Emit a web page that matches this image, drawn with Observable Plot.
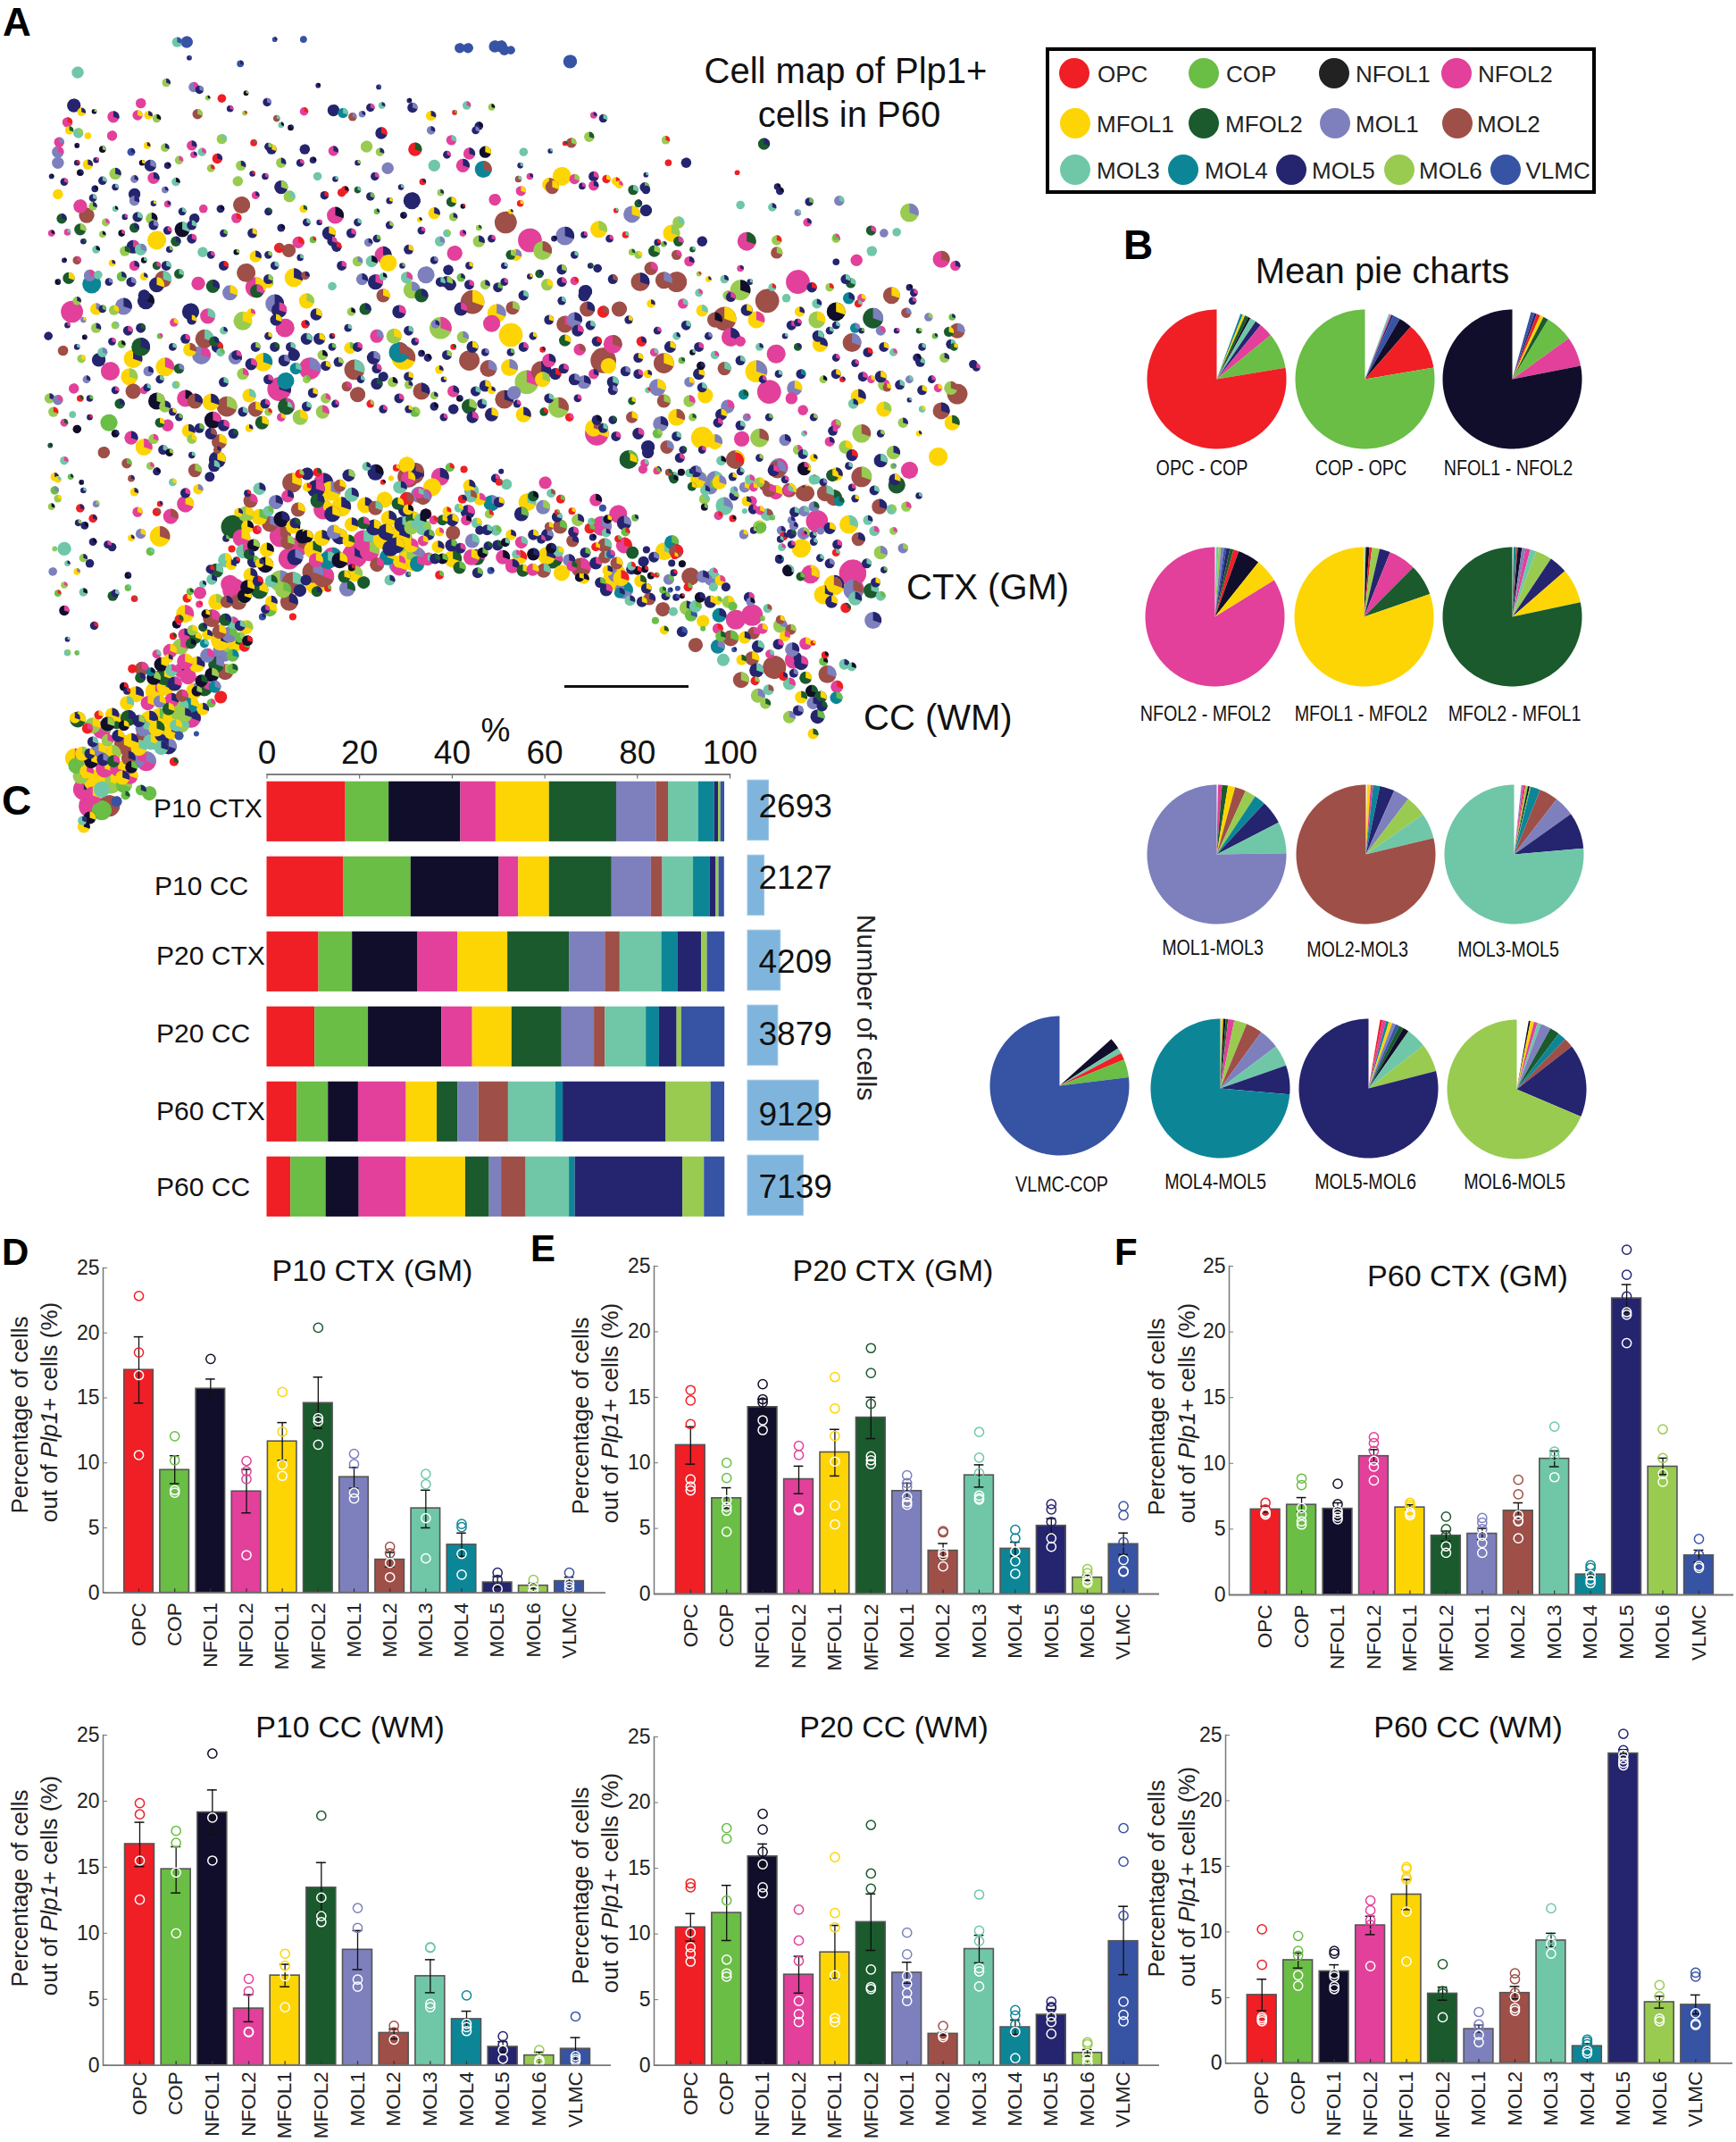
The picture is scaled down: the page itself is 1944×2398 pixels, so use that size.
<!DOCTYPE html>
<html><head><meta charset="utf-8">
<script src="https://cdn.jsdelivr.net/npm/d3@7"></script>
<script src="https://cdn.jsdelivr.net/npm/@observablehq/plot@0.6"></script>
<style>
html,body{margin:0;padding:0;background:#fff}
#root{position:relative;width:1944px;height:2398px;overflow:hidden;font-family:"Liberation Sans",Arial,sans-serif;color:#111}
#root svg{background:transparent;max-width:none}
</style></head><body><div id="root"></div>
<script>
const types=["OPC","COP","NFOL1","NFOL2","MFOL1","MFOL2","MOL1","MOL2","MOL3","MOL4","MOL5","MOL6","VLMC"];
const colours=["#ef1f25","#6abd45","#100e2a","#e2409a","#fdd505","#1a5a2d","#7d80bd","#9e4f47","#6fc7a8","#0c8697","#25246f","#98cb50","#3753a4"];

// ---- Panel C
const stackRows=["P10 CTX","P10 CC","P20 CTX","P20 CC","P60 CTX","P60 CC"];
const stackP10Ctx=[17,9.35,15.5,7.6,11.55,14.5,8.6,2.6,6.5,3.45,.85,.5,.85];
const stackP10Cc=[16.6,14.5,19.05,4.2,6.65,13.5,8.5,2.45,6.65,3.55,1.35,.6,1.2];
const stackP20Ctx=[11.2,7.25,14.15,8.6,10.8,13.3,7.75,3.2,9,3.45,5.15,1.25,3.8];
const stackP20Cc=[10.35,11.55,15.85,6.65,8.5,10.8,7,2.35,8.85,2.85,3.8,1,9.35];
const stackP60Ctx=[6.5,6.75,6.5,10.35,6.65,4.45,4.55,6.4,10.2,1.6,22.25,9.7,2.95];
const stackP60Cc=[5.15,7.6,7.15,10.2,12.8,5.15,2.6,5.3,9.35,1.25,23.25,4.65,4.45];
const cellCounts=[2693,2127,4209,3879,9129,7139];

// ---- Panels D-F: mean, error limits, animals
const p10CtxMean=[17.15,9.45,15.7,7.8,11.65,14.6,8.9,2.55,6.5,3.7,.8,.55,.9];
const p10CtxLow=[14.6,8.4,14.9,6.15,10.2,12.65,8.05,2,5,2.8,.45,.35,.5];
const p10CtxHigh=[19.7,10.55,16.45,9.5,13.1,16.6,9.65,3.1,7.9,4.6,1.25,.75,1.2];
const p10CtxDots=[[22.85,18.5,16.75,10.6],[12.05,10.2,7.9,7.7],[18],[10.15,9.35,8.75,2.9],[15.45,12.4,9.85,9],[20.4,13.45,13.2,11.4],[10.7,9.9,7.7,7.25],[3.55,3.05,2.3,1.2],[9.15,8.35,5.75,2.65],[5.3,5.05,3,1.4],[1.55,1,.3],[1,.45,.2,.15],[1.55,.75,.5,.3]];

const p20CtxMean=[11.35,7.3,14.25,8.75,10.8,13.45,7.85,3.3,9.05,3.45,5.2,1.25,3.8];
const p20CtxLow=[9.9,6.55,13.75,7.65,9,11.85,7.3,2.75,8.15,2.9,4.55,1.05,3];
const p20CtxHigh=[12.75,8.1,14.85,9.75,12.55,15,8.45,3.85,9.85,3.95,5.75,1.45,4.65];
const p20CtxDots=[[15.55,14.75,12.95,8.75,8.2,7.9],[10,8.85,7.15,6.65,6.35,4.75],[16,14.85,14.6,13.25,12.5],[11.3,10.6,6.5,6.4],[16.55,14.15,12.05,10.1,6.75,5.3],[18.75,16.85,14.5,10.5,10.2,9.9],[9.05,8.45,8.15,7.4,7,6.8],[4.8,4.7,3.15,2.95,2.1],[12.35,10.4,9.2,7.5,7.3,7.2],[4.9,4.25,3.25,2.5,1.55],[6.85,6.45,5.5,4.25,3.6],[1.9,1.6,1.2,.95,.85],[6.7,6,3.95,2.6,1.75,1.7]];

const p60CtxMean=[6.5,6.85,6.55,10.55,6.65,4.5,4.65,6.4,10.35,1.55,22.55,9.75,3];
const p60CtxLow=[6.3,6.3,6,10.1,6.45,4.1,4.2,5.75,9.75,1.3,21.5,9.15,2.5];
const p60CtxHigh=[6.75,7.4,7,11.05,6.85,4.85,5.05,7,10.95,1.85,23.6,10.4,3.4];
const p60CtxDots=[[7,6.5,6.3,6.2,6.1],[8.85,8.35,6.6,6.1,5.6,5.35],[8.45,6.9,6.4,6.2,5.95,5.75],[12,11.55,10.95,10.2,9.75,8.7],[7,6.85,6.7,6.3,6.15,6.05],[5.95,5,4.5,3.7,3.2],[5.85,5.5,5,4.5,3.95,3.2],[8.75,7.65,6.05,5.65,5.6,4.3],[12.8,10.9,10.55,8.95],[2.25,2.05,1.5,1.15,.9],[26.25,24.35,22.7,21.5,21.3,19.15],[12.6,10.4,9.2,8.6],[4.25,3.05,2.2,2.05]];

const p10CcMean=[16.75,14.85,19.15,4.3,6.8,13.45,8.75,2.45,6.75,3.5,1.4,.75,1.25];
const p10CcLow=[15.05,13.05,17.45,3.3,5.95,11.6,7.25,2,5.5,2.9,1,.5,.4];
const p10CcHigh=[18.4,16.55,20.85,5.35,7.65,15.35,10.2,2.75,8,4.1,1.8,1,2.1];
const p10CcDots=[[19.85,19,15.5,12.55],[17.75,16.85,14.6,10],[23.6,18.75,15.5],[6.55,5.6,2.55,2.5],[8.45,7.55,6.75,4.4],[18.9,12.7,11.3,10.85],[11.9,10.4,6.5,5.95],[3,2.5,1.95],[8.95,8.9,4.65,4.4],[5.3,3.15,2.9,2.6],[2.2,1.55,1.15,.5],[1.15,.4,.3,.2],[3.7,.7,.5,.35]];

const p20CcMean=[10.5,11.6,15.9,6.9,8.6,10.9,7.05,2.4,8.85,2.9,3.85,.95,9.45];
const p20CcLow=[9.45,9.5,14.9,5.5,6.6,8.75,6.25,2.3,7.8,2.35,3.45,.7,6.9];
const p20CcHigh=[11.55,13.7,16.85,8.3,10.65,13.05,7.85,2.5,9.9,3.45,4.25,1.2,12.1];
const p20CcDots=[[13.85,13.55,10.1,9,8.5,7.9],[18.05,17.25,12.55,8.05,7,6.75],[19.15,17.95,16.25,15.3,13.55,13.1],[11.85,9.5,7.95,4.9,3.9,3.3],[15.85,11.6,10.5,6.85,3.6,3.3],[18.3,14.6,13.45,7.3,5.95,5.8],[10.1,8.45,6.8,6.2,5.5,4.9],[3,2.3,2.15],[13,10.25,9.45,7.4,7.15,6],[4.2,3.8,3.1,2.55,.55],[4.85,4.45,4.35,3.7,3.3,2.4],[1.75,1.6,.85,.5,.25,.15],[18.05,15.5,11.4,4.85,3.85,3.35]];

const p60CcMean=[5.2,7.85,7,10.5,12.85,5.3,2.6,5.35,9.35,1.3,23.6,4.65,4.45];
const p60CcLow=[4,7.25,6.5,9.8,11.7,4.8,2.3,4.9,8.85,1.1,23.4,4.2,3.75];
const p60CcHigh=[6.4,8.4,7.5,11.2,14,5.8,2.9,5.85,9.9,1.5,23.9,5.1,5.2];
const p60CcDots=[[10.2,7.5,3.5,3.35,3.2],[9.7,8.55,8.2,6.7,5.9],[8.55,8.35,6.8,6.6,5.85,5.65],[12.4,11.65,10.9,10.55,7.4],[14.95,14.8,14.15,14,11.55,7.75],[7.55,5.5,5.3,3.5],[3.9,2.95,2.6,2.15,1.6],[6.85,6.4,5.35,5.05,4.2,4],[11.8,9.45,9.1,8.35],[1.8,1.65,1.45,.95,.75],[25.1,23.85,23.5,23.15,22.9,22.7],[5.95,5.1,3.4,3.2],[6.9,6.6,3.8,3,2.9]];

// ---- Panel B: clockwise from 12 o'clock, in degrees. null = empty wedge
const pieOPC=[[null,20],["MOL4",2],["MFOL1",2],["MFOL2",3],["NFOL1",2],["MOL3",5],["MOL5",5],["NFOL2",11.8],["COP",29.8],["OPC",279.4]];
const pieCOP=[[null,20],["MOL3",1.5],["NFOL2",1],["MOL5",1.5],["VLMC",6],["NFOL1",11],["OPC",39.4],["COP",279.6]];
const pieNFOL1=[[null,15.6],["VLMC",3],["MOL5",2],["OPC",3],["MFOL1",3],["MFOL2",4.4],["COP",23],["NFOL2",24.9],["NFOL1",281.1]];
const pieNFOL2=[[null,1],["MOL3",2],["MOL6",2],["MOL1",2.5],["VLMC",2],["MOL5",3],["MFOL2",3],["OPC",4.5],["NFOL1",18.6],["MFOL1",19.7],["NFOL2",301.7]];
const pieMFOL1=[[null,.5],["MOL3",1],["NFOL1",3],["OPC",2],["MOL6",6.5],["MOL5",9],["NFOL2",22.8],["MFOL2",26.2],["MFOL1",289]];
const pieMFOL2=[[null,1],["MOL4",2],["MOL2",1.5],["NFOL1",3.5],["MOL1",3],["NFOL2",4],["MOL3",5],["MOL6",13.7],["MOL5",15.3],["MFOL1",29],["MFOL2",282]];
const pieMOL1=[[null,1],["NFOL2",3.4],["MFOL2",4.9],["MFOL1",6.1],["MOL2",9.1],["MOL6",9],["MOL4",9.5],["MOL5",19.7],["MOL3",26.3],["MOL1",271]];
const pieMOL2=[[null,1],["MFOL1",3],["NFOL2",2],["MOL4",5.7],["MOL5",12.3],["MOL1",13.5],["MOL6",17.5],["MOL3",21.5],["MOL2",283.5]];
const pieMOL3=[[null,6],["MOL1",1],["NFOL2",1.5],["OPC",1],["MOL6",2],["NFOL1",1.5],["COP",1],["MOL4",8],["MOL2",15.7],["MOL1",16.9],["MOL5",30.4],["MOL3",275]];
const pieVLMC=[[null,48],["NFOL1",9.4],["MOL3",4.6],["OPC",6],["COP",15],["VLMC",277]];
const pieMOL4=[[null,.5],["MFOL1",2],["NFOL1",2],["MFOL2",2],["NFOL2",5.2],["MOL6",10.6],["MOL2",13.7],["MOL1",17],["MOL3",17.7],["MOL5",24.3],["MOL4",265]];
const pieMOL5=[[null,9.6],["OPC",2],["NFOL2",3],["MOL4",2.4],["MFOL1",3],["MOL1",3],["VLMC",3],["MFOL2",4],["NFOL1",5],["MOL3",17],["MOL6",23.6],["MOL5",284.4]];
const pieMOL6=[[null,9.9],["NFOL1",1.5],["MFOL1",3],["NFOL2",3],["MOL3",3],["MOL1",8.6],["MFOL2",8],["MOL4",7],["MOL2",8],["MOL5",61],["MOL6",247]];

// ---- Panel A: [x, y, radius, main type, wedge type]
const ctxTop=[[277,77,6,8,12],[292,77,7,12,12],[430,72,3,12,10],[475,72,4,12,12],[720,88,6,12,12],[733,88,6,12,12],[775,85,7,12,12],[785,85,7,12,12],[790,92,6,12,12],[800,92,5,12,12],[893,113,8,12,12],[121,133,7,8,8],[296,106,3,10,12],[376,117,4,12,10],[498,157,3,10,2],[593,160,3,10,12],[1197,265,7,5,10],[260,152,5,11,10],[303,160,6,6,3],[312,165,5,10,6],[325,180,3,11,2],[347,181,5,0,0],[385,171,3,2,11],[418,188,5,10,6],[115,194,8,10,10],[127,206,5,4,10],[147,205,3,2,11],[177,215,7,3,10],[220,190,6,3,3],[215,212,6,3,4],[232,212,5,4,10],[245,218,5,11,2],[309,210,6,7,11],[360,200,4,10,3],[383,208,3,11,0],[433,218,4,7,8],[476,205,5,3,0],[522,203,7,10,10],[537,208,6,9,8],[552,215,5,7,6],[567,210,4,6,10],[580,198,5,10,3],[598,194,4,8,10],[641,185,3,10,2],[646,198,6,10,6],[675,213,6,4,10],[712,207,3,0,1],[731,194,5,8,3],[770,197,4,11,2],[930,212,4,3,10],[945,218,5,10,8],[105,225,6,3,0],[108,240,5,4,5],[122,245,6,8,11],[137,250,4,4,4],[175,250,6,3,3],[92,262,6,3,6],[90,280,7,6,3],[120,268,3,2,10],[160,275,4,2,11],[230,268,4,4,10],[258,272,5,11,10],[300,268,6,3,10],[316,280,5,8,3],[347,256,6,11,8],[397,263,4,0,7],[425,275,6,10,4],[477,275,6,10,10],[522,278,6,3,10],[574,270,7,11,11],[597,245,7,10,0],[595,280,5,11,10],[650,275,8,0,5],[707,258,6,3,8],[675,240,5,6,10],[735,283,7,3,10],[760,280,7,2,4],[750,232,5,10,2],[1043,258,5,11,0],[923,252,6,11,5],[895,263,6,7,11],[862,278,3,10,8],[820,280,5,8,8],[885,264,3,0,5],[90,300,7,6,6],[137,303,6,4,10],[125,318,4,2,10],[80,325,3,10,2],[180,320,7,11,10],[235,305,7,10,6],[240,328,7,3,10],[160,333,5,10,8],[262,305,4,10,2],[280,295,5,11,3],[303,285,4,3,10],[340,292,6,0,10],[377,305,6,11,10],[415,325,4,10,3],[440,300,6,11,10],[372,334,6,11,11],[497,325,5,8,8],[490,295,4,10,2],[587,325,5,10,3],[607,310,7,6,6],[680,305,7,8,8],[662,335,4,0,10],[725,305,8,3,10],[757,312,10,9,7],[1047,300,4,0,0],[1075,300,6,10,10],[1155,318,3,0,0],[830,325,4,3,10],[812,330,4,7,8],[860,340,8,4,7],[880,325,11,4,4],[900,330,6,3,11],[930,325,6,10,3],[950,330,5,0,4],[965,334,5,4,0],[1012,322,3,10,8],[865,345,8,7,4],[912,343,4,10,3],[930,342,6,3,10],[816,352,6,3,4],[1218,344,4,10,2],[90,358,6,4,4],[148,348,4,10,2],[180,345,4,10,8],[210,358,7,10,10],[258,350,4,6,10],[275,335,5,8,2],[440,345,8,10,11],[453,362,7,11,8],[508,360,5,10,0],[535,355,5,0,10],[560,350,4,5,8],[580,362,5,10,1],[610,370,4,10,4],[645,370,10,10,10],[690,355,4,11,10],[707,372,6,5,4],[725,380,3,2,0],[775,368,7,3,3],[815,375,4,0,4],[992,350,6,5,8],[1012,350,5,10,10],[1160,378,5,8,8],[1210,382,5,8,10],[1268,372,5,10,1],[1315,370,6,6,8],[1425,392,11,11,6],[1250,392,4,6,8],[125,380,8,3,3],[145,380,5,11,10],[135,397,9,7,7],[378,378,10,7,7],[370,402,6,3,0],[96,403,6,5,10],[125,423,7,5,11],[80,430,4,3,2],[105,428,4,3,8],[210,370,6,6,10],[215,400,6,10,8],[237,403,7,11,2],[262,376,4,3,10],[304,403,6,10,10],[318,385,5,3,3],[525,397,10,3,2],[632,397,4,2,10],[657,405,3,4,2],[680,393,7,4,10],[710,400,5,11,10],[792,410,13,7,7],[800,390,3,4,10],[965,388,3,0,8],[990,395,10,6,4],[1012,388,7,10,10],[1063,410,7,11,8],[1365,425,6,5,3],[1385,430,5,6,6],[1405,428,5,8,8],[1310,440,5,11,3],[1265,410,5,3,10],[160,432,4,11,2],[190,430,4,2,3]];
const ctxUpper=[[245,443,11,4,4],[262,425,5,10,3],[285,423,9,2,8],[275,445,6,5,10],[830,443,14,3,3],[885,435,11,6,10],[915,433,4,10,3],[938,423,10,4,11],[850,462,11,11,7],[750,445,7,11,10],[725,430,4,3,10],[689,445,6,8,6],[712,467,9,3,3],[1170,445,11,3,5],[1217,443,6,11,0],[1217,466,7,7,11],[1052,430,10,4,11],[1030,447,4,10,0],[1063,445,6,5,3],[980,433,4,0,8],[1100,445,6,10,10],[1310,437,4,1,3],[1366,463,6,8,8],[1342,480,7,3,3],[1475,478,10,3,7],[1497,490,6,3,10],[467,447,7,3,0],[490,442,4,1,0],[515,430,8,10,4],[437,457,6,0,7],[452,462,8,7,7],[470,475,4,10,8],[400,473,7,4,10],[527,455,6,10,0],[577,447,5,6,10],[600,470,10,3,10],[608,485,10,4,4],[560,482,6,11,6],[582,482,7,8,2],[667,507,10,6,6],[637,512,7,8,3],[702,498,6,10,10],[722,512,5,1,10],[790,490,4,10,8],[808,470,7,4,6],[845,505,5,5,10],[880,497,6,10,11],[900,518,5,3,0],[917,538,8,10,10],[936,495,5,10,10],[1020,495,8,7,3],[1003,520,11,7,10],[1040,517,10,7,6],[1060,520,12,7,7],[1080,482,6,3,10],[1095,505,3,11,0],[1060,470,6,7,3],[990,465,4,11,5],[1025,463,7,5,11],[1160,535,12,11,2],[1202,555,14,7,7],[1135,515,5,8,10],[1250,520,14,3,3],[1272,530,6,10,0],[1300,530,5,11,0],[1333,522,6,5,8],[1397,545,10,7,4],[1425,530,4,10,2],[1232,550,5,8,8],[1310,483,4,10,10],[1160,495,4,3,10],[100,480,3,10,2],[120,480,5,7,3],[175,485,4,4,10],[107,513,7,5,4],[153,507,5,8,8],[140,508,7,6,3],[143,524,11,9,9],[195,463,6,11,5],[208,455,8,10,3],[220,460,7,8,6],[210,490,6,3,10],[245,490,5,5,3],[265,460,4,10,11],[317,465,6,8,8],[385,503,11,7,7],[400,530,12,3,4],[430,490,5,10,8],[420,522,6,4,1],[460,512,11,4,10],[478,508,5,7,10],[255,515,10,7,8],[245,525,9,10,4],[310,523,8,3,3],[333,528,8,5,10],[360,540,9,6,4],[402,537,8,5,3],[430,560,11,6,10],[437,572,9,10,3],[380,592,11,11,4],[112,575,13,3,3],[120,555,5,11,10],[75,620,5,10,10],[98,647,5,7,7],[193,565,10,6,10],[178,572,6,11,4],[150,570,7,4,6],[228,555,10,10,2],[298,575,10,10,10],[325,583,9,3,8],[272,595,5,3,4],[393,577,5,4,3],[446,605,11,3,3],[478,598,5,0,10],[495,580,7,10,4],[480,555,9,4,11],[520,528,5,8,8],[567,515,7,6,10],[588,520,9,10,3],[600,545,8,7,4],[625,575,8,10,3],[572,570,7,5,10],[550,575,5,11,2],[645,535,10,11,6],[660,545,8,5,10],[705,525,7,10,10],[740,557,14,7,4],[722,570,8,10,3],[803,568,8,7,11],[778,578,11,4,6],[800,618,14,4,4],[770,597,10,3,3],[885,598,10,7,3],[900,590,9,6,10],[820,545,6,10,8],[857,525,7,11,4],[880,555,5,10,8],[920,570,9,7,10],[945,575,7,0,7],[970,570,9,7,7],[985,590,5,10,4],[1020,560,5,4,10],[1070,560,6,3,8],[1100,573,7,4,8],[1135,588,14,7,4],[1185,590,10,4,3],[1120,590,9,7,2],[1145,622,11,3,10],[1160,630,6,3,3],[1216,653,11,3,3],[1185,685,13,4,6],[1280,590,10,11,4],[1310,575,11,2,4],[1368,587,12,5,6],[1340,605,6,9,6],[1330,550,7,9,10],[1350,550,5,3,4],[1420,577,6,7,6],[1455,585,5,6,11],[1487,612,6,5,4],[1500,610,9,7,6],[1492,585,4,1,10],[1335,632,11,7,6],[1285,635,9,4,10],[1253,575,6,4,10]];
const ctxMiddle=[[150,605,6,11,10],[132,622,3,2,10],[98,647,6,7,0],[127,662,5,11,4],[154,664,8,10,10],[172,685,11,3,3],[208,662,11,4,10],[220,640,11,5,10],[202,695,10,4,11],[232,685,6,6,10],[258,677,11,4,3],[280,680,6,5,6],[250,700,5,10,8],[297,645,8,4,7],[315,655,11,6,3],[320,625,11,7,8],[335,630,6,5,10],[345,650,5,8,1],[368,660,8,6,10],[412,668,11,4,9],[393,672,7,10,3],[445,665,7,10,6],[463,680,7,9,8],[485,680,13,3,6],[505,655,6,11,2],[510,675,6,10,4],[548,642,7,4,1],[585,660,8,10,6],[555,682,12,7,8],[625,650,12,9,7],[632,660,14,4,7],[590,620,8,3,6],[617,620,9,11,4],[690,605,13,11,3],[682,598,5,6,10],[725,622,7,11,6],[735,665,12,7,7],[765,680,10,7,6],[798,678,10,4,6],[688,682,5,4,10],[660,652,4,10,2],[860,665,8,3,10],[848,685,12,7,10],[883,680,6,10,3],[885,628,7,5,4],[908,645,7,3,7],[935,630,6,10,0],[960,635,11,3,7],[945,665,15,7,7],[953,675,9,4,4],[980,685,6,10,6],[1015,690,5,4,10],[1005,630,6,0,10],[1025,650,5,3,8],[1040,670,12,7,4],[1068,665,4,1,5],[1098,675,5,2,10],[1120,655,5,8,3],[1135,680,8,7,8],[1080,705,6,6,4],[1030,715,10,6,4],[1040,740,8,7,11],[1060,770,10,4,7],[1035,782,9,6,10],[1105,730,9,4,4],[1140,750,8,6,3],[1080,740,7,11,3],[1165,728,6,9,5],[1205,723,14,3,3],[1245,716,9,6,4],[1240,735,7,3,3],[1258,757,6,3,3],[1345,732,9,4,10],[1385,710,7,11,3],[1390,715,5,7,4],[1437,660,5,10,2],[1470,716,5,3,4],[1500,727,12,7,7],[1490,716,8,11,7],[1385,755,9,4,11],[1337,745,6,8,10],[1310,783,6,3,11],[1525,672,5,10,10],[1475,758,10,7,10],[1492,780,9,4,5],[1415,780,6,11,10],[1445,755,4,8,4],[1425,738,3,10,8],[115,717,6,3,3],[77,735,6,11,10],[90,738,6,6,3],[125,735,4,0,5],[140,735,4,10,1],[83,760,6,11,0],[113,765,4,8,8],[187,745,6,5,10],[208,722,9,7,7],[245,740,10,2,11],[258,750,7,11,10],[290,735,10,3,2],[305,740,9,7,10],[330,742,10,4,10],[355,750,12,7,11],[390,730,8,4,8],[400,755,9,7,4],[437,718,14,3,10],[447,703,10,9,9],[448,750,10,5,3],[470,770,9,11,4],[490,725,6,10,4],[510,735,6,11,3],[505,760,8,11,3],[543,713,6,7,3],[560,728,9,7,7],[590,708,7,10,5],[615,705,6,11,2],[640,710,5,11,10],[660,722,10,7,10],[710,722,7,3,10],[745,722,6,10,8],[735,750,9,5,11],[720,735,4,2,10],[790,737,11,7,10],[805,725,8,6,6],[825,705,14,11,3],[850,700,9,4,11],[820,765,9,4,10],[770,765,8,10,4],[875,752,12,11,7],[915,705,8,6,10],[930,690,6,3,10],[935,775,6,10,2],[960,775,5,10,5],[990,770,7,7,4],[600,755,5,10,3],[650,760,6,1,11],[680,750,5,10,2],[710,755,6,10,10],[852,760,5,5,0],[892,770,5,0,3],[170,780,10,1,1],[120,792,5,2,2],[78,822,3,5,10],[205,808,8,3,10],[225,825,10,4,3],[262,785,7,3,3],[295,795,8,4,10],[333,775,10,2,3],[343,815,9,7,4],[365,800,6,10,5],[410,780,8,5,4],[440,770,5,3,4],[162,835,7,7,7],[100,850,5,8,3],[198,855,6,7,1],[240,810,6,11,3],[300,840,4,10,8],[340,848,10,10,4],[305,868,8,7,11],[85,880,5,4,10],[127,890,3,2,10],[205,883,4,7,10],[935,800,14,3,4],[930,790,10,4,7],[1015,825,8,10,10],[985,848,11,5,1],[1045,825,8,7,6],[1100,808,13,4,4],[1120,815,9,4,6],[1162,810,9,3,3],[1190,808,11,11,7],[1230,812,7,6,10],[1152,848,11,7,4],[1325,825,8,11,4],[1425,868,10,3,3],[1470,843,11,4,4],[1400,835,8,11,10],[1350,800,11,11,7]];
const ctxLower=[[90,885,4,4,8],[85,905,5,1,6],[80,935,4,11,2],[210,908,5,4,10],[310,903,6,4,6],[290,910,6,10,3],[290,930,10,3,4],[215,945,6,3,4],[245,945,5,0,7],[267,953,9,3,7],[125,938,5,0,10],[150,930,4,6,11],[122,965,4,10,11],[145,957,5,0,10],[250,990,12,4,7],[220,985,6,6,4],[205,993,4,4,10],[175,1010,5,10,10],[100,1013,8,8,8],[85,1013,3,11,8],[235,1018,5,1,8],[130,1030,5,11,10],[140,1040,5,10,10],[120,1055,4,4,6],[82,1055,5,6,6],[200,1062,4,2,10],[100,1080,4,11,3],[130,1093,5,8,2],[176,1100,6,5,2],[210,1105,4,0,7],[200,1085,4,1,8],[90,1095,4,1,0],[100,1127,6,2,3],[147,1155,5,10,0],[105,1180,3,10,8],[105,1205,4,8,11],[120,1205,3,1,8],[1010,855,5,3,8],[1030,868,5,4,10],[1055,880,6,5,8],[1080,873,5,8,10],[1095,885,10,4,8],[1120,885,10,6,8],[1148,880,5,10,4],[1175,885,6,8,3],[1190,890,6,11,4],[1220,863,11,6,3],[1260,865,8,2,4],[1275,885,6,8,7],[1310,875,8,4,10],[1350,880,12,7,11],[1405,895,10,5,5],[1380,850,8,10,8],[1440,915,4,10,8],[1105,905,6,8,10],[1135,935,10,8,6],[1170,925,6,4,10],[1205,905,8,7,3],[1235,905,6,3,8],[1262,910,10,7,4],[1295,910,9,7,8],[1315,925,6,9,5],[1378,935,9,7,10],[1397,940,6,8,11],[1420,935,6,11,3],[1280,962,13,3,3],[1245,945,6,10,8],[1190,973,8,11,4],[1165,985,5,6,4],[1228,990,5,0,10],[1255,1012,11,4,4],[1330,968,11,4,8],[1300,975,7,10,4],[1345,995,8,7,10],[1370,980,6,8,3],[1380,1020,8,11,6],[1415,1012,6,6,11],[1220,1030,4,10,2],[1235,1053,7,2,8],[1270,1060,11,3,4],[1336,1058,16,3,3],[1307,1080,12,4,10],[1290,1098,11,4,3],[1338,1088,12,6,3],[1365,1090,9,5,8],[1385,1052,4,10,1],[1325,1122,6,0,10],[1368,1145,10,6,10],[1340,1105,8,8,10]];
const ctxSmall=[[150,295,3,10,3],[205,280,4,12,10],[222,300,3,2,4],[210,330,4,6,10],[330,310,4,11,0],[395,320,3,10,0],[420,270,4,10,11],[455,235,3,2,10],[440,230,3,8,2],[470,300,4,10,3],[525,330,3,10,8],[560,300,3,10,11],[540,350,4,0,2],[628,345,3,10,8],[700,285,4,10,3],[745,240,4,10,6],[815,305,3,10,8],[970,340,4,4,3],[1000,375,4,5,10],[120,300,3,10,0],[100,335,4,10,3],[145,365,4,10,8],[180,385,3,8,2],[165,410,4,11,3],[195,400,3,10,3],[210,420,5,5,10],[240,375,3,10,4],[285,390,4,10,8],[345,385,4,10,2],[400,360,4,3,10],[420,390,4,10,5],[475,385,4,4,5],[500,410,3,10,3],[560,410,4,10,8],[590,390,3,1,10],[610,415,4,10,11],[660,425,4,10,3],[700,430,4,8,11],[750,420,3,11,5],[770,440,4,10,3],[800,470,5,5,11],[868,440,3,10,2],[900,470,4,10,8],[955,440,4,10,3],[1000,470,4,11,4],[1040,450,3,1,10],[1085,460,3,5,8],[130,445,3,10,5],[150,460,4,8,2],[170,520,4,10,6],[190,510,5,1,10],[225,510,4,4,10],[225,480,3,2,8],[280,505,5,5,8],[330,470,4,10,3],[350,490,5,10,0],[370,465,3,2,11],[420,470,4,10,11],[535,490,5,10,3],[600,510,4,8,2],[630,490,3,10,1],[680,480,4,10,6],[735,490,4,10,4],[760,525,5,11,10],[790,520,4,10,3],[830,510,3,10,4],[925,490,3,10,5],[960,515,5,10,7],[1095,540,4,8,3],[1110,515,3,4,10],[1140,545,5,11,3],[1175,520,3,10,8],[1210,530,4,8,0],[1280,560,5,8,10],[1300,610,4,10,8],[1345,560,4,0,8],[1380,610,5,6,3],[1430,555,4,10,3],[1440,610,3,5,11],[1495,640,4,5,4],[1465,620,3,1,10],[1480,660,5,11,10],[1400,650,4,8,3],[1360,650,5,10,0],[1310,660,4,10,3],[1250,640,4,5,10],[1230,620,3,10,8],[1190,640,4,8,10],[90,520,3,2,10],[105,600,3,10,3],[130,590,3,6,4],[180,600,4,11,8],[220,605,5,10,5],[250,620,3,1,3],[350,610,4,8,10],[420,620,4,10,4],[455,640,5,10,8],[520,620,3,10,0],[545,605,4,10,8],[650,630,4,10,3],[710,640,3,0,5],[760,650,4,10,6],[835,620,4,10,4],[850,645,3,0,10],[1060,620,4,8,10],[1085,650,3,2,8],[1160,665,5,10,8],[1195,700,4,10,3],[1290,700,4,11,2],[1255,690,5,10,9],[1320,700,3,0,10],[1365,700,4,3,4],[1425,700,4,6,8],[1445,720,5,10,4],[160,650,5,8,6],[190,635,4,1,2],[135,700,4,6,10],[180,720,4,10,3],[225,720,4,3,10],[275,710,4,8,11],[350,705,5,10,8],[380,690,6,11,3],[420,700,5,10,3],[480,700,4,11,1],[580,745,4,0,11],[625,735,5,10,3],[680,730,4,11,10],[695,700,3,10,4],[770,720,4,4,10],[960,720,5,10,6],[990,740,4,5,4],[1015,720,3,8,0],[1085,770,4,11,5],[1125,780,5,10,3],[1170,770,4,6,3],[1205,770,4,10,1],[1275,770,4,10,11],[1260,800,3,8,3],[1300,815,5,3,10],[1380,800,4,10,11],[1440,800,3,4,10],[1030,800,5,1,11],[1070,830,4,10,5],[1130,850,5,8,2],[1190,845,4,10,11],[1250,830,5,11,3],[1275,845,4,4,10],[1330,860,4,10,8],[1400,860,3,1,6],[100,780,4,3,5],[140,770,3,10,0],[180,800,4,2,10],[250,780,5,5,4],[280,770,4,10,1],[300,810,5,11,4],[330,800,6,10,7],[340,830,4,7,10],[390,790,4,4,10],[420,760,4,11,0],[450,750,5,5,8],[235,860,4,11,3],[265,835,4,2,11],[270,890,4,8,4],[110,880,3,1,10],[90,920,4,11,4],[130,905,3,10,8],[250,930,3,0,10],[145,1000,4,10,2],[105,1040,3,8,10],[1340,920,4,10,4],[1360,960,5,8,10],[1400,980,4,11,3],[1240,960,4,6,10],[1210,955,3,1,8],[1180,940,5,10,3],[1150,905,4,8,6],[1225,1010,4,8,3],[1260,985,3,3,10],[1300,1040,5,10,6],[1380,1100,5,8,1],[1310,1020,4,0,8]];
const ctxNavy=[[700,520,6,10,11],[880,520,5,10,3],[915,545,6,10,10],[1015,835,6,10,10],[1010,345,5,10,1],[945,790,5,10,8],[965,805,5,10,3],[1222,352,4,10,2],[1325,515,5,10,8],[1432,540,4,10,3],[1000,660,5,10,4],[900,700,6,10,6],[870,690,6,10,0],[760,712,6,10,4],[740,770,6,10,3],[640,695,5,10,4],[600,695,5,10,10],[590,680,5,10,3],[530,668,5,10,11],[480,625,6,10,8],[460,655,6,10,10],[430,640,5,10,5],[370,655,5,10,3],[340,640,6,10,0],[300,590,5,10,4],[225,545,6,10,10],[240,415,5,10,6],[300,415,5,10,8],[520,445,5,10,3],[420,515,5,10,11],[432,590,6,10,4],[350,785,6,10,3],[335,860,6,10,8],[328,880,5,10,10],[312,790,5,10,1],[255,830,5,10,8],[245,870,4,10,2],[132,970,4,10,2],[168,1005,4,10,3],[180,1095,4,10,8],[1095,690,6,10,4],[1100,715,5,10,8],[1130,765,6,10,4],[1065,845,5,10,3],[1090,870,6,10,6],[1150,915,5,10,11],[1240,985,5,10,5],[1285,1030,4,10,8],[1312,1005,5,10,3],[1372,1075,5,10,4],[1358,1040,5,10,8],[1402,885,6,10,4],[1335,840,6,10,0],[1305,795,5,10,3],[1258,838,5,10,8],[1212,868,6,10,3],[1160,785,5,10,8],[1380,695,6,10,4],[1442,668,5,10,8],[1530,678,4,10,3],[1490,635,5,10,8],[1352,695,5,10,3],[1282,620,6,10,8],[1240,600,5,10,3],[1170,572,6,10,4],[1145,548,5,10,3],[1075,600,5,10,8],[1050,640,6,10,4],[1000,690,5,10,3],[960,705,6,10,8],[820,640,5,10,3],[800,650,4,10,1],[740,640,6,10,4],[700,655,5,10,11],[670,660,4,10,2],[640,610,5,10,8],[560,640,5,10,3],[520,640,4,10,1],[500,625,6,10,4],[400,640,5,10,11],[290,625,5,10,3],[270,640,4,10,8],[200,610,5,10,3],[160,570,4,10,1],[205,520,5,10,6],[260,490,5,10,8],[300,440,5,10,3],[350,430,4,10,1],[395,430,5,10,4],[440,420,4,10,2],[480,410,4,10,8],[550,430,5,10,3],[590,440,4,10,1],[640,460,5,10,4],[690,520,5,10,8],[735,525,5,10,3],[780,530,5,10,1],[860,590,5,10,4],[905,610,6,10,3],[925,600,5,10,8],[1030,610,4,10,3],[1110,620,4,10,6],[1095,640,5,10,3],[1220,690,4,10,8],[1310,690,5,10,4],[1340,670,4,10,3],[1410,710,5,10,8],[1460,700,4,10,3],[1385,640,5,10,4],[1445,640,4,10,8],[1405,610,3,10,3],[1350,610,3,10,1],[1310,600,4,10,8],[1250,595,4,10,3],[120,640,3,10,8],[175,630,4,10,3],[230,715,4,10,8],[270,760,4,10,4],[380,760,5,10,8],[415,745,5,10,3],[480,750,5,10,8],[525,745,4,10,3],[565,700,4,10,8],[640,755,4,10,4],[695,770,4,10,3],[755,745,5,10,8],[810,745,4,10,3],[860,735,5,10,8],[905,735,4,10,3],[1000,800,6,10,3],[1060,805,5,10,8],[1100,830,4,10,3],[1160,870,4,10,8],[1230,885,4,10,3],[1290,890,4,10,6],[1335,900,4,10,3],[1370,905,5,10,8],[1240,1005,4,10,3],[1275,1000,4,10,8]];

// CC, left part: positions read on a crop that starts at (60,510), at 3x
const ccTail=[[100,1245,7,4,2],[95,1225,5,8,10],[120,1215,7,2,4],[160,1190,11,1,1],[185,1175,12,7,7],[125,1175,14,3,3],[210,1160,6,12,12],[240,1140,5,1,5],[320,1133,8,1,1],[292,1122,6,1,10],[100,1120,12,3,10],[160,1120,9,8,8],[130,1140,10,3,4],[235,1105,9,1,11],[190,1095,13,11,4],[135,1090,12,4,4],[90,1075,9,11,10],[255,1075,9,3,4],[230,1080,8,4,10],[110,1060,8,4,3],[170,1050,10,3,4],[215,1050,9,3,4],[75,1040,9,1,1],[70,1015,11,4,3],[125,1025,8,2,4],[165,1020,7,10,6],[195,1000,10,4,11],[150,990,9,6,4],[120,1000,6,10,4],[95,1000,8,4,11],[235,970,11,7,4],[310,1025,11,3,6],[280,1020,9,6,3],[250,1015,8,7,10],[200,1025,7,5,3],[260,1045,7,2,1],[403,1027,5,0,5],[130,960,6,10,8],[180,955,7,11,3],[215,940,7,10,4],[260,955,8,4,10],[305,940,10,7,4],[340,955,10,10,4],[385,975,9,10,6],[360,980,8,8,10],[285,980,9,4,8],[325,960,9,8,4],[365,935,9,10,11],[395,925,9,4,10],[420,940,5,12,12],[478,933,3,12,12],[80,885,9,5,4],[70,880,6,4,10],[112,915,6,0,3],[130,905,9,11,4],[160,920,10,3,1],[150,870,5,0,4],[195,870,8,4,10],[180,900,8,2,11],[210,890,9,5,4],[250,880,9,5,10],[235,905,6,2,4],[285,890,7,10,11],[320,885,10,4,10],[300,915,9,6,8],[355,880,11,4,1],[395,880,10,4,11],[345,915,9,4,5],[430,905,8,11,8],[410,905,7,8,4],[460,880,11,3,10],[440,870,8,11,10],[245,830,8,4,8],[275,800,9,4,10],[315,830,8,3,4],[340,790,11,4,3],[375,775,10,4,5],[355,825,7,6,4],[395,820,8,3,10],[430,805,7,7,3],[460,835,9,9,4],[500,850,7,4,10],[470,790,9,4,6],[505,780,9,5,3],[480,790,6,2,11],[540,775,7,9,6],[560,810,7,0,0],[528,830,5,1,3],[425,840,9,11,8],[385,850,7,5,4],[235,775,5,2,0],[245,790,4,10,0]];
const ccBend=[[263,715,5,0,0],[295,715,8,7,3],[325,725,5,9,2],[290,745,6,5,10],[335,745,8,2,11],[370,740,10,5,4],[405,765,8,10,3],[430,720,9,3,10],[395,720,7,8,3],[450,740,9,3,3],[495,755,7,2,5],[530,735,8,2,11],[575,725,9,7,11],[545,700,9,5,6],[600,715,6,1,5],[480,700,9,4,10],[440,690,9,3,4],[360,700,8,2,4],[385,680,5,4,10],[345,665,5,3,8],[390,655,8,3,4],[425,640,9,11,3],[460,630,6,5,2],[515,670,8,6,3],[570,655,12,6,11],[600,670,7,1,9],[640,640,6,0,1],[610,630,9,4,5],[560,620,11,4,10],[505,630,5,9,8],[590,600,9,6,1],[625,610,6,1,11],[438,600,7,3,10],[400,605,4,0,5],[475,610,7,5,4],[465,585,6,11,4],[515,600,6,4,10],[555,590,8,7,4],[645,575,8,4,11],[650,620,6,2,0],[625,570,6,10,8],[600,560,7,8,3],[530,545,10,7,3],[510,530,5,2,4],[575,550,7,5,10],[500,575,5,5,10],[412,565,5,2,3],[420,548,5,0,5],[440,530,10,4,3],[488,498,4,3,0],[447,478,5,0,4],[490,460,7,3,3],[457,455,4,1,5],[500,430,4,8,10],[530,415,6,8,10],[545,490,9,4,11],[590,430,10,3,3],[605,450,13,3,3],[620,490,9,7,1],[640,470,8,2,4],[580,490,7,7,10],[545,385,8,5,8],[575,350,8,8,4],[595,365,6,4,10],[613,350,4,10,0],[597,312,4,0,0],[525,380,5,10,0],[660,400,8,4,10],[685,420,6,10,0],[650,440,8,2,4],[690,450,10,5,4],[730,490,7,4,10],[700,540,4,12,10],[725,515,8,1,4],[710,515,5,10,3],[790,490,10,7,10],[760,420,12,11,6],[730,420,7,8,5],[802,425,12,7,8],[770,450,9,11,1],[826,452,7,10,10],[880,430,12,4,5],[905,405,12,7,3],[870,390,12,7,6],[846,417,6,10,10],[883,455,6,5,10],[920,445,4,0,1],[802,540,4,0,0]];
const ccHead=[[985,445,9,6,5],[975,405,7,5,4],[1010,395,9,4,11],[1040,425,7,5,5],[1000,375,4,2,0],[1085,365,8,7,3],[1128,417,6,8,10],[1190,397,3,12,0],[1155,365,10,6,3],[1220,365,8,9,4],[1255,350,6,3,8],[1210,345,14,4,6],[1120,340,9,9,4],[1160,355,7,4,3],[1010,335,14,3,10],[960,350,9,2,4],[935,340,11,3,9],[920,350,10,9,8],[1060,320,11,3,11],[1040,285,12,3,8],[1105,280,11,4,10],[1130,310,9,10,4],[1165,280,13,4,11],[1195,325,12,11,6],[1075,240,9,10,4],[1000,230,8,4,10],[1040,225,7,5,3],[960,270,9,10,4],[900,275,9,4,10],[940,255,8,6,4],[990,285,7,4,5],[850,270,7,2,4],[870,315,10,4,5],[880,350,8,3,4],[810,340,9,10,6],[790,345,12,3,7],[820,305,11,3,7],[785,290,8,7,11],[760,270,12,3,7],[715,315,8,4,2],[670,300,7,2,11],[635,320,8,8,3],[655,330,6,5,10],[690,360,5,4,10],[710,365,9,2,4],[670,355,7,10,1],[630,275,10,3,4],[600,238,13,5,5],[578,277,4,10,1],[650,237,7,4,2],[682,248,5,0,3],[725,228,9,7,6],[765,212,9,2,10],[803,237,8,4,2],[835,270,8,2,4],[690,205,9,4,1],[645,195,9,11,4],[620,190,5,4,10],[660,150,8,7,3],[720,185,6,8,1],[745,155,8,6,10],[785,135,7,3,10],[820,180,8,7,4],[810,225,6,10,5],[690,110,7,8,10],[650,125,4,10,0],[800,90,11,7,4],[850,60,7,10,10],[825,60,5,0,11],[885,55,5,0,5],[905,90,11,3,10],[930,118,11,4,6],[880,110,10,10,3],[850,105,5,4,0],[960,100,7,7,4],[885,150,8,5,10],[905,180,11,3,4],[935,195,9,10,4],[1000,130,8,8,10],[965,170,11,4,10],[1045,165,9,4,10],[1110,147,9,4,4],[1080,175,8,7,8],[990,65,7,10,11],[1050,35,5,8,10],[1080,55,9,10,2],[1105,88,3,0,2],[1132,75,3,4,4],[1160,105,7,8,10],[1190,70,12,7,3],[1185,30,9,4,4],[1215,50,9,10,7],[1150,40,4,0,4],[1225,130,9,6,3],[1245,135,8,8,3],[1185,145,8,0,7],[1190,180,6,4,2],[1125,210,9,4,10],[1205,210,8,5,4],[1250,195,6,2,0],[1170,230,9,10,8],[1240,240,9,8,11],[1115,255,9,10,4]];
// CC, right part: positions read on a crop that starts at (440,510), at 3x
const ccArc=[[45,30,9,4,4],[70,60,11,7,10],[50,75,8,3,4],[157,70,10,3,10],[130,105,10,4,4],[190,38,5,1,0],[237,45,4,0,0],[25,105,7,8,10],[100,140,8,7,6],[85,125,6,3,8],[45,150,7,0,7],[15,160,7,5,4],[40,180,8,10,3],[108,195,6,2,2],[255,100,7,4,10],[263,118,8,6,8],[290,145,7,4,3],[260,135,7,8,7],[232,145,5,0,10],[343,75,5,10,3],[362,52,3,10,10],[380,95,6,8,8],[355,88,4,0,7],[330,158,9,9,6],[355,155,6,10,4],[322,195,5,11,0],[250,188,8,10,3],[220,175,5,8,4],[180,185,5,4,0],[198,215,7,10,4],[165,215,6,5,4],[135,215,5,3,0],[60,240,8,11,8],[20,265,12,4,10],[10,300,9,10,4],[60,300,8,4,3],[200,258,8,7,7],[155,255,5,4,3],[120,265,6,10,1],[100,285,6,3,4],[90,215,7,8,2],[245,215,6,3,2],[280,225,6,8,4],[265,285,8,6,8],[225,310,6,10,3],[195,300,7,10,1],[150,305,7,4,10],[280,340,9,5,3],[262,340,9,3,4],[300,325,6,2,1],[200,345,10,4,5],[222,375,7,5,1],[165,345,6,2,1],[140,345,6,10,5],[118,345,7,3,1],[80,360,8,9,3],[45,345,9,4,11],[20,375,9,3,4],[50,398,3,12,1],[155,400,5,0,1],[283,392,6,10,1],[327,385,4,12,10],[368,340,8,3,2],[413,330,5,8,3],[450,155,10,4,8],[470,135,6,5,2],[503,172,8,6,11],[510,90,7,3,3],[530,125,5,8,7],[562,145,5,0,1],[430,195,8,10,1],[425,340,8,4,0],[400,370,8,3,10],[435,385,7,5,4],[468,382,7,3,4],[470,330,7,2,10],[515,335,10,4,10],[535,345,11,5,3],[505,385,8,7,8],[565,393,9,4,4],[630,375,11,7,3],[640,412,6,4,2],[625,408,5,2,4],[600,370,6,3,5],[590,350,7,6,10],[555,320,6,8,4],[530,310,6,2,10],[497,280,5,10,3],[470,265,6,10,4],[430,290,7,3,8],[395,265,6,4,10],[376,290,5,2,8],[345,250,6,8,1],[315,248,6,10,8],[290,250,5,10,10],[350,300,6,10,5],[318,302,5,10,5],[517,265,7,10,6],[560,237,8,7,1],[523,237,5,7,4],[550,205,6,10,8],[620,215,7,11,10],[600,185,4,0,4],[550,188,3,0,1],[602,285,7,7,10],[605,255,6,10,3],[665,220,4,8,1],[660,243,6,0,1],[700,235,11,3,6],[715,258,5,8,10],[670,273,4,10,2],[680,305,5,0,4],[710,300,8,7,8],[645,325,6,10,1],[680,360,7,10,3],[710,340,7,7,8],[730,330,5,12,3],[775,225,8,10,6],[720,212,5,2,4],[812,208,4,1,10],[755,195,10,3,3],[680,148,7,3,2],[703,175,4,12,12],[755,278,4,0,1],[775,300,9,3,0],[803,325,7,5,5],[850,315,4,10,10],[875,340,6,10,6],[780,255,5,1,0],[750,360,7,7,4],[720,385,6,4,10],[695,425,6,10,1],[715,450,7,10,3],[740,415,12,4,4],[765,410,9,4,0],[750,395,10,6,4],[775,450,10,6,9],[760,460,6,9,10],[800,380,6,10,4],[830,420,7,4,5],[820,385,5,2,0],[845,380,4,2,0],[865,402,4,2,0],[885,400,3,0,1],[795,485,6,8,10],[850,445,6,10,4],[860,480,7,7,10],[835,490,6,10,4],[800,370,5,8,0],[840,355,6,10,10]];
const ccEnd=[[910,320,10,4,8],[935,290,8,9,1],[950,320,8,7,0],[945,335,4,0,4],[935,360,4,10,10],[970,362,4,2,2],[942,392,4,10,0],[925,415,6,6,1],[998,405,10,7,7],[990,440,5,0,1],[1040,405,7,6,10],[1070,410,9,6,8],[1075,440,5,8,8],[1098,418,6,4,3],[1117,440,5,10,10],[1075,390,5,8,3],[905,515,8,7,7],[940,523,5,8,8],[880,553,4,1,1],[910,585,5,4,5],[970,590,6,10,12],[1015,635,8,7,7],[1040,555,7,4,4],[1040,580,3,1,1],[985,510,8,11,10],[1000,535,7,1,12],[1030,475,6,2,10],[1065,490,7,10,4],[1090,485,5,4,1],[1125,490,7,11,4],[1140,505,5,1,1],[1095,535,8,9,10],[950,475,4,10,12],[915,470,5,10,1],[905,450,4,1,5],[955,445,3,12,12],[930,450,3,12,10],[970,470,3,2,0],[1015,505,7,8,1],[1195,475,6,10,3],[1200,490,5,6,2],[1150,550,11,3,3],[1205,535,12,3,3],[1240,580,6,3,4],[1257,512,5,8,7],[1240,545,3,1,11],[1090,580,6,3,0],[1133,612,9,7,1],[1100,605,6,1,5],[1090,640,8,9,6],[1108,685,7,8,8],[1145,650,3,12,10],[1210,595,7,7,3],[1180,610,7,4,10],[1225,640,7,10,8],[1170,685,6,4,5],[1205,680,8,7,4],[1300,550,5,7,4],[1300,570,8,11,6],[1335,583,6,7,11],[1315,605,6,4,3],[1293,632,6,10,3],[1340,650,8,6,10],[1385,630,7,3,4],[1410,628,3,0,4],[1265,665,5,3,8],[1280,710,13,7,7],[1220,720,8,10,8],[1215,755,5,0,11],[1168,752,9,7,11],[1225,805,8,11,6],[1250,832,6,11,5],[1260,785,6,8,7],[1345,685,10,3,10],[1370,695,8,10,3],[1385,745,7,5,4],[1330,765,7,8,3],[1345,730,5,10,6],[1310,740,5,0,10],[1405,790,7,2,5],[1435,810,7,5,4],[1370,810,7,4,5],[1410,830,7,6,10],[1440,840,6,10,5],[1360,855,6,10,6],[1330,877,7,11,6],[1425,875,8,10,1],[1410,933,6,4,5],[1458,733,10,7,6],[1450,668,4,0,2],[1445,690,5,1,2],[1490,775,7,3,0],[1488,812,7,9,1],[1515,700,6,8,10],[1540,708,5,8,2]];
const ctxAboveArc=[[795,15,8,5,4],[838,45,5,3,3],[885,50,4,3,1],[925,55,4,7,5],[967,55,4,2,2],[942,78,5,5,2],[1025,78,9,4,6],[1003,103,5,5,4],[1065,105,8,6,1],[1095,88,8,4,6],[1045,145,6,11,8],[1045,172,4,2,1],[1092,200,5,3,0],[1110,165,9,8,6],[1140,210,4,0,2],[1180,185,3,8,8],[1203,152,6,3,3],[1232,183,5,3,4],[1255,197,7,8,7],[1235,240,6,1,1],[1210,250,4,10,11],[1177,265,5,6,3],[1303,250,5,6,10],[1300,280,4,10,8],[1375,308,9,4,4],[1378,260,7,6,11],[1410,265,4,10,8],[1345,235,5,6,10],[1435,252,4,6,6],[1422,215,10,3,3],[1413,170,6,6,5],[1380,185,6,6,8],[1297,347,5,10,9],[1323,383,5,2,2],[1368,405,5,5,1],[1405,400,8,3,4],[1450,462,9,4,10],[1480,433,9,4,7],[1472,490,7,10,4],[1525,510,4,0,5],[1540,390,12,3,3],[1545,450,11,6,7],[1375,125,8,7,2],[1290,45,10,7,6],[1247,100,6,7,7],[1285,122,8,3,4],[1330,115,8,7,4],[1390,125,8,7,7],[1450,125,9,7,4],[1480,140,9,7,5],[1180,105,6,6,4],[1210,105,5,3,4],[1150,15,9,7,0],[1380,35,5,2,3],[1420,80,5,8,8],[1475,65,7,5,4],[1533,230,8,4,8]];

const root=document.getElementById("root");
function place(svg,left,top){svg.style.position="absolute";svg.style.left=left+"px";svg.style.top=top+"px";svg.style.overflow="visible";root.appendChild(svg);}
function label(html,x,y,{size=30,anchor="start",weight=400,rot=0,sx=1,color="#111"}={}){
  const d=document.createElement("div");const tx=anchor==="middle"?"-50%":anchor==="end"?"-100%":"0";
  d.innerHTML=html;
  d.style.cssText=`position:absolute;left:${x}px;top:${y}px;font-size:${size}px;font-weight:${weight};color:${color};line-height:1;white-space:nowrap;transform-origin:0 0;transform:rotate(${rot}deg) scaleX(${sx}) translate(${tx},-50%);`;
  root.appendChild(d);
}
const colorScale={type:"ordinal",domain:types,range:colours};
const fullSymbol={draw(ctx,size){const r=Math.sqrt(size/Math.PI);ctx.moveTo(r,0);ctx.arc(0,0,r,0,2*Math.PI);ctx.closePath();}};
const wedgeSymbol={draw(ctx,size){const r=Math.sqrt(size/Math.PI);ctx.moveTo(0,0);ctx.lineTo(0,-r);ctx.arc(0,0,r,-Math.PI/2,-Math.PI/2+1.9);ctx.closePath();}};

// Panel A: the map domain is the picture in px; crops are converted to it
const mapCells=[
  ...[...ctxTop,...ctxUpper,...ctxMiddle,...ctxLower].map(d=>({x:d[0]/1.4,y:d[1]/1.65,r:d[2]*.95,c:d[3],w:d[4]})),
  ...[...ctxSmall,...ctxNavy].map(d=>({x:d[0]/1.4,y:d[1]/1.65,r:d[2]*1.1,c:d[3],w:d[4]})),
  ...ctxAboveArc.map(d=>({x:440+d[0]/3,y:510+d[1]/3,r:d[2],c:d[3],w:d[4]})),
  ...[...ccTail,...ccBend,...ccHead].map(d=>({x:60+d[0]/3,y:510+d[1]/3,r:d[2],c:d[3],w:d[4]})),
  ...[...ccArc,...ccEnd].map(d=>({x:440+d[0]/3,y:510+d[1]/3,r:d[2],c:d[3],w:d[4]}))
];
const mapRows=mapCells.flatMap(d=>[{...d,t:types[d.c],s:"full"},{...d,t:types[d.w],s:"wedge"}]);
place(Plot.plot({width:1120,height:950,margin:0,
  x:{axis:null,domain:[0,1120],range:[0,1120]},y:{axis:null,domain:[0,950],range:[0,950]},
  r:{type:"identity"},color:colorScale,symbol:{domain:["full","wedge"],range:[fullSymbol,wedgeSymbol]},
  marks:[
    Plot.dot(mapRows,{x:"x",y:"y",r:"r",fill:"t",stroke:"none",symbol:d=>d.s}),
    Plot.ruleY([768],{x1:632,x2:771,stroke:"#111",strokeWidth:3})
  ]}),0,0);

// Panel C
const stackSeries=[stackP10Ctx,stackP10Cc,stackP20Ctx,stackP20Cc,stackP60Ctx,stackP60Cc];
const stackData=stackSeries.flatMap((s,i)=>s.map((v,j)=>({row:stackRows[i],type:types[j],value:v})));
place(Plot.plot({width:567,height:600,marginLeft:48.5,marginRight:0,marginTop:76.6,marginBottom:0,
  x:{domain:[0,100]},y:{domain:stackRows,padding:.2,round:false,range:[67.9,588.7],axis:null},color:colorScale,
  marks:[
    Plot.barX(stackData,{x:"value",y:"row",fill:"type",order:null}),
    Plot.frame({anchor:"top",stroke:"#555",strokeWidth:1.5}),
    Plot.axisX({anchor:"top",ticks:[0,20,40,60,80,100],tickSize:-4,tickPadding:16,fontSize:37,fill:"#111",stroke:"#555",label:null,fontFamily:"Liberation Sans",tickFormat:d=>d})
  ],style:{fontFamily:"Liberation Sans"}}),250,790);
const countRows=stackRows.map((r,i)=>({row:r,n:cellCounts[i]}));
const countDy=[-4,-8,2,-1,5,2];
place(Plot.plot({width:110,height:600,margin:0,
  x:{domain:[0,9129],range:[0,79.7],axis:null},y:{domain:stackRows,padding:.2,round:false,range:[66.4,587.2],axis:null},
  marks:[
    Plot.barX(countRows,{x:"n",y:"row",fill:"#7fb5dd",stroke:"#9cc6e4"}),
    ...countRows.map((r,i)=>Plot.text([r],{x:0,y:"row",text:d=>String(d.n),dx:12,dy:countDy[i],textAnchor:"start",fontSize:37,fill:"#111",fontFamily:"Liberation Sans"}))
  ]}),836.7,790);

// Panels D-F
function barPanel(o){
  const svgLeft=o.axis-72,svgTop=o.y25-72,bottom=110,W=o.end-svgLeft,H=o.y0-svgTop+bottom;
  const step=(o.last-o.first)/12,off=step*.595;
  const rows=types.map((t,i)=>({type:t,mean:o.mean[i],lo:o.low[i],hi:o.high[i]}));
  const pts=o.dots.flatMap((a,i)=>a.map(v=>({type:types[i],v,inside:v<o.mean[i]})));
  place(Plot.plot({width:W,height:H,marginLeft:72,marginRight:0,marginTop:72,marginBottom:bottom,
    x:{domain:types,padding:.19,round:false,range:[o.first-off-svgLeft,o.last+off-svgLeft]},
    y:{domain:[0,25]},color:colorScale,
    marks:[
      Plot.barY(rows,{x:"type",y:"mean",fill:"type",stroke:"#555",strokeWidth:1.6}),
      Plot.ruleX(types,{x:d=>d,y1:0,y2:.3,stroke:"#333",strokeWidth:1.2}),
      Plot.ruleX(rows,{x:"type",y1:"lo",y2:"hi",stroke:"#111",strokeWidth:1.3}),
      Plot.tickY(rows,{x:"type",y:"hi",stroke:"#111",strokeWidth:1.5,insetLeft:11,insetRight:11}),
      Plot.tickY(rows,{x:"type",y:"lo",stroke:"#111",strokeWidth:1.5,insetLeft:11,insetRight:11}),
      Plot.dot(pts.filter(d=>!d.inside),{x:"type",y:"v",r:5.1,stroke:"type",fill:"none",strokeWidth:1.5}),
      Plot.dot(pts.filter(d=>d.inside),{x:"type",y:"v",r:5.1,stroke:"#fff",fill:"none",strokeWidth:1.5}),
      Plot.frame({anchor:"left",stroke:"#777",strokeWidth:1.5}),
      Plot.ruleY([0],{stroke:"#777",strokeWidth:1.8}),
      Plot.axisY({anchor:"left",ticks:[0,5,10,15,20,25],tickSize:-5,tickPadding:9,fontSize:23,fill:"#222",stroke:"#777",label:null,tickFormat:d=>d,fontFamily:"Liberation Sans"}),
      Plot.axisX({tickRotate:-90,tickSize:0,tickPadding:o.pad,fontSize:22.5,fill:"#222",label:null,fontFamily:"Liberation Sans"})
    ],style:{fontFamily:"Liberation Sans"}}),svgLeft,svgTop);
  label(o.title,o.titleX,o.titleY,{size:34,anchor:"middle"});
  label("Percentage of cells",o.l1x,o.l1y,{size:26,anchor:"middle",rot:-90,color:"#222"});
  label("out of <i>Plp1</i>+ cells (%)",o.l2x,o.l2y,{size:26,anchor:"middle",rot:-90,color:"#222"});
}
barPanel({title:"P10 CTX (GM)",titleX:417,titleY:1422,axis:115,end:678,y0:1782.7,y25:1419,first:155,last:637,mean:p10CtxMean,low:p10CtxLow,high:p10CtxHigh,dots:p10CtxDots,l1x:22,l1y:1584,l2x:55,l2y:1581,pad:11});
barPanel({title:"P20 CTX (GM)",titleX:1000,titleY:1422,axis:732,end:1298,y0:1783.7,y25:1416.7,first:772.8,last:1257.6,mean:p20CtxMean,low:p20CtxLow,high:p20CtxHigh,dots:p20CtxDots,l1x:650,l1y:1585,l2x:683,l2y:1582,pad:11});
barPanel({title:"P60 CTX (GM)",titleX:1643.5,titleY:1428,axis:1376,end:1941,y0:1784.7,y25:1416.7,first:1416.6,last:1902,mean:p60CtxMean,low:p60CtxLow,high:p60CtxHigh,dots:p60CtxDots,l1x:1295,l1y:1586,l2x:1329,l2y:1582,pad:11});
barPanel({title:"P10 CC (WM)",titleX:392,titleY:1933,axis:115,end:684,y0:2311.7,y25:1942,first:156,last:644,mean:p10CcMean,low:p10CcLow,high:p10CcHigh,dots:p10CcDots,l1x:22,l1y:2114,l2x:55,l2y:2111,pad:7});
barPanel({title:"P20 CC (WM)",titleX:1001,titleY:1933,axis:732,end:1298,y0:2311.7,y25:1944,first:772.8,last:1257.6,mean:p20CcMean,low:p20CcLow,high:p20CcHigh,dots:p20CcDots,l1x:650,l1y:2111,l2x:683,l2y:2108,pad:7});
barPanel({title:"P60 CC (WM)",titleX:1644,titleY:1933,axis:1372,end:1940,y0:2309,y25:1941.7,first:1412.7,last:1898.3,mean:p60CcMean,low:p60CcLow,high:p60CcHigh,dots:p60CcDots,l1x:1295,l1y:2103,l2x:1329,l2y:2101,pad:9});

// Panel B
function pie(slices,cx,cy,r,name,lx,ly){
  const pts=[];let a=0;
  slices.forEach(([t,deg],i)=>{
    if(t){
      pts.push({id:i,t,x:0,y:0});
      const n=Math.ceil(deg/2);
      for(let k=0;k<=n;k++){const th=(a+deg*k/n)*Math.PI/180;pts.push({id:i,t,x:Math.sin(th),y:Math.cos(th)});}
    }
    a+=deg;
  });
  const pad=2;
  place(Plot.plot({width:2*r+2*pad,height:2*r+2*pad,margin:0,
    x:{axis:null,domain:[-1,1],range:[pad,pad+2*r]},y:{axis:null,domain:[-1,1],range:[pad+2*r,pad]},color:colorScale,
    marks:[Plot.line(pts,{x:"x",y:"y",z:"id",fill:"t",stroke:"none",curve:"linear-closed"})]}),cx-r-pad,cy-r-pad);
  label(name,lx,ly,{size:24,anchor:"middle",sx:.82});
}
pie(pieOPC,1361.5,424,78,"OPC - COP",1346,524);
pie(pieCOP,1527.8,424,78,"COP - OPC",1523.6,524);
pie(pieNFOL1,1692.8,424,78,"NFOL1 - NFOL2",1688.7,524);
pie(pieNFOL2,1360.4,690,78,"NFOL2 - MFOL2",1350,799);
pie(pieMFOL1,1527,690,78,"MFOL1 - MFOL2",1523.5,799);
pie(pieMFOL2,1693,690,78,"MFOL2 - MFOL1",1696,799);
pie(pieMOL1,1361.5,956.4,78,"MOL1-MOL3",1358,1061);
pie(pieMOL2,1528.5,956.4,78,"MOL2-MOL3",1519.7,1063);
pie(pieMOL3,1694.6,956,78,"MOL3-MOL5",1689.4,1063);
pie(pieVLMC,1185.5,1215,78,"VLMC-COP",1188.5,1326);
pie(pieMOL4,1366,1218,78,"MOL4-MOL5",1361,1323);
pie(pieMOL5,1531.8,1218,78,"MOL5-MOL6",1529,1323);
pie(pieMOL6,1697.6,1218.5,78,"MOL6-MOL5",1696,1323);

// Legend
const box=document.createElement("div");
box.style.cssText="position:absolute;left:1171px;top:53px;width:608px;height:156px;border:4px solid #000;";root.appendChild(box);
const legendRows=[
 [["OPC",1203,1229],["COP",1347.5,1373],["NFOL1",1494,1518],["NFOL2",1631,1655]],
 [["MFOL1",1203.5,1228],["MFOL2",1348,1372],["MOL1",1495,1518],["MOL2",1632,1654]],
 [["MOL3",1203.5,1228],["MOL4",1325,1349],["MOL5",1446,1469],["MOL6",1567,1589],["VLMC",1686,1708.5]]];
[82,137.5,190].forEach((y,ri)=>legendRows[ri].forEach(([t,cx,tx])=>{
  const s=document.createElement("div");
  s.style.cssText=`position:absolute;left:${cx-17}px;top:${y-17}px;width:34px;height:34px;border-radius:50%;background:${t==="NFOL1"?"#222":colours[types.indexOf(t)]}`;
  root.appendChild(s);
  label(t,tx,y+1,{size:26,color:"#222"});
}));

// Text
label("Cell map of Plp1+",947,79,{size:40,anchor:"middle"});
label("cells in P60",951,128,{size:40,anchor:"middle"});
label("CTX (GM)",1015,657,{size:40});
label("CC (WM)",967,803,{size:40});
label("Mean pie charts",1548,303,{size:40,anchor:"middle"});
label("%",555,817,{size:37,anchor:"middle"});
label("Number of cells",970,1128,{size:30,anchor:"middle",rot:90,color:"#222"});
[["P10 CTX",172,905],["P10 CC",173,992],["P20 CTX",175,1070],["P20 CC",175,1157],["P60 CTX",175,1244],["P60 CC",175,1329]].forEach(([t,x,y])=>label(t,x,y,{size:30}));
[["A",3,25,44],["B",1258,274,46],["C",2,896,46],["D",2,1402,42],["E",594,1398,42],["F",1248,1402,42]].forEach(([t,x,y,s])=>label(t,x,y,{size:s,weight:700,color:"#000"}));
</script></body></html>
